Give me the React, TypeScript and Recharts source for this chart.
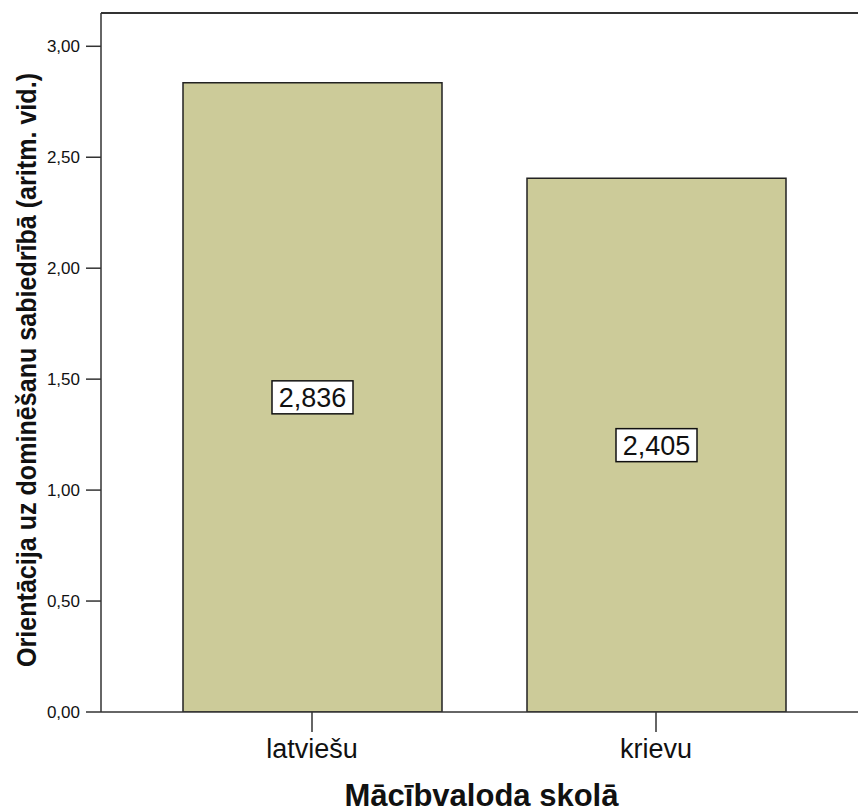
import React from 'react';
import { BarChart, Bar, XAxis, YAxis, LabelList, ReferenceLine, Label } from 'recharts';

const categories = ['latviešu', 'krievu'];
const means = [2.836, 2.405];
const yTicks = [0, 0.5, 1, 1.5, 2, 2.5, 3];
const yMax = 3.15;

const data = categories.map((c, i) => ({ name: c, value: means[i] }));

const FONT = '"Liberation Sans", Arial, sans-serif';
const fmt = (v: number, d: number) => v.toFixed(d).replace('.', ',');

const BoxLabel = (props: any) => {
  const { x, y, width, height, value } = props;
  const cx = x + width / 2;
  const cy = y + height / 2;
  const w = 81;
  const h = 33;
  return (
    <g>
      <rect x={cx - w / 2} y={cy - h / 2} width={w} height={h} fill="#ffffff" stroke="#111" strokeWidth={1.5} />
      <text x={cx} y={cy + 10} textAnchor="middle" fontFamily={FONT} fontSize={27} fill="#111">
        {fmt(value, 3)}
      </text>
    </g>
  );
};

const YTitle = (props: any) => {
  const cy = 370;
  const x = 36;
  return (
    <text
      x={x}
      y={cy}
      transform={`rotate(-90, ${x}, ${cy})`}
      textAnchor="middle"
      fontFamily={FONT}
      fontWeight="bold"
      fontSize={28}
      fill="#111"
      textLength={594}
      lengthAdjust="spacingAndGlyphs"
    >
      Orientācija uz dominēšanu sabiedrībā (aritm. vid.)
    </text>
  );
};

const XTitle = (props: any) => {
  const { viewBox } = props;
  const cx = viewBox.x + viewBox.width / 2 + 2;
  return (
    <text x={cx} y={806} textAnchor="middle" fontFamily={FONT} fontWeight="bold" fontSize={31} fill="#111">
      Mācībvaloda skolā
    </text>
  );
};

export default function App() {
  return (
    <div style={{ position: 'absolute', left: 0, top: 0, width: 858, height: 812, background: '#fff' }}>
      <BarChart width={858} height={812} data={data} margin={{ top: 13, right: 0, bottom: 0, left: 0 }}>
        <XAxis
          dataKey="name"
          height={100}
          padding={{ left: 39, right: 30 }}
          tickSize={20}
          tickMargin={7}
          stroke="#333"
          strokeWidth={1.5}
          tick={{ fontFamily: FONT, fontSize: 27, fill: '#111' }}
          tickLine={{ stroke: '#333', strokeWidth: 1.5 }}
        >
          <Label content={<XTitle />} />
        </XAxis>
        <YAxis
          width={101}
          domain={[0, yMax]}
          ticks={yTicks}
          tickFormatter={(v: number) => fmt(v, 2)}
          tickSize={15}
          tickMargin={6}
          stroke="#333"
          strokeWidth={1.5}
          tick={{ fontFamily: FONT, fontSize: 17, fill: '#111' }}
          tickLine={{ stroke: '#333', strokeWidth: 1.5 }}
          allowDataOverflow
        >
          <Label content={<YTitle />} />
        </YAxis>
        <ReferenceLine y={yMax} stroke="#333" strokeWidth={2} />
        <Bar dataKey="value" fill="#cccb99" stroke="#222" strokeWidth={1.5} barSize={259} isAnimationActive={false}>
          <LabelList dataKey="value" content={<BoxLabel />} />
        </Bar>
      </BarChart>
    </div>
  );
}
